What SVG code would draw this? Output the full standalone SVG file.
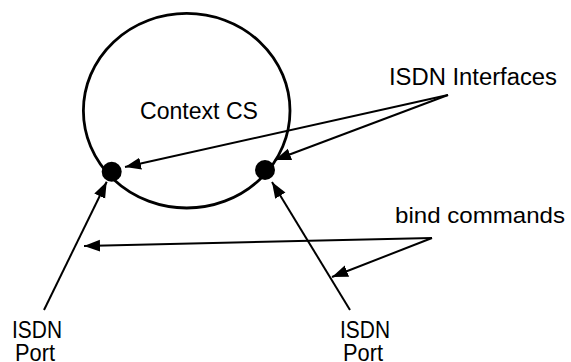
<svg xmlns="http://www.w3.org/2000/svg" width="571" height="362" viewBox="0 0 571 362">
<style>
text{font-family:"Liberation Sans",Arial,sans-serif;fill:#000}
.ln{stroke:#000;stroke-width:2;fill:none}
</style>
<defs>
<marker id="ah" markerUnits="userSpaceOnUse" markerWidth="18" markerHeight="14" viewBox="-16 -7 18 14" refX="0" refY="0" orient="auto">
<path d="M0,0 L-16,-6 L-16,6 Z" fill="#000"/>
</marker>
</defs>
<rect width="571" height="362" fill="#fff"/>
<g id="context">
<ellipse cx="186.7" cy="110.7" rx="103.3" ry="97.3" fill="none" stroke="#000" stroke-width="2.8"/>
<text x="140" y="119" font-size="23.5" textLength="118" lengthAdjust="spacingAndGlyphs">Context CS</text>
</g>
<g id="if-left"><circle cx="111.7" cy="171.7" r="10" fill="#000"/></g>
<g id="if-right"><circle cx="265" cy="170" r="10" fill="#000"/></g>
<g id="label-interfaces"><text x="389" y="85" font-size="23.5" textLength="168" lengthAdjust="spacingAndGlyphs">ISDN Interfaces</text></g>
<g id="label-bind"><text x="395" y="223" font-size="22.5" textLength="170" lengthAdjust="spacingAndGlyphs">bind commands</text></g>
<g id="port-left">
<text x="12" y="338" font-size="24" textLength="50" lengthAdjust="spacingAndGlyphs">ISDN</text>
<text x="15" y="360.5" font-size="24" textLength="40" lengthAdjust="spacingAndGlyphs">Port</text>
</g>
<g id="port-right">
<text x="340" y="338" font-size="24" textLength="50" lengthAdjust="spacingAndGlyphs">ISDN</text>
<text x="343" y="360.5" font-size="24" textLength="40" lengthAdjust="spacingAndGlyphs">Port</text>
</g>
<g id="connectors">
<line class="ln" x1="448" y1="95" x2="125" y2="167" marker-end="url(#ah)"/>
<line class="ln" x1="448" y1="95" x2="275" y2="160" marker-end="url(#ah)"/>
<line class="ln" x1="44" y1="310" x2="106.7" y2="181.7" marker-end="url(#ah)"/>
<line class="ln" x1="350" y1="310" x2="272" y2="182" marker-end="url(#ah)"/>
<line class="ln" x1="432" y1="238" x2="84" y2="246" marker-end="url(#ah)"/>
<line class="ln" x1="432" y1="238" x2="332" y2="277" marker-end="url(#ah)"/>
</g>
</svg>
